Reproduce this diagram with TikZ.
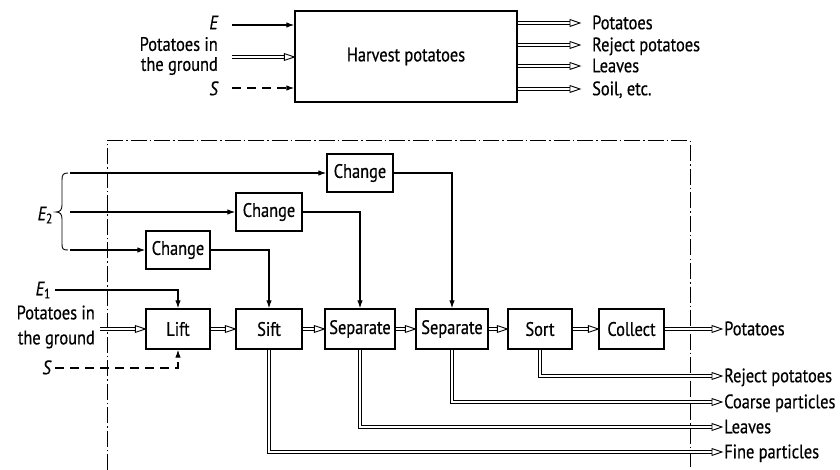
\documentclass[tikz,border=0pt]{standalone}
\usepackage{fontspec}
\setmainfont[FakeStretch=0.84,FakeBold=0.5]{PT Sans}
\usetikzlibrary{arrows.meta,decorations.markings}

\begin{document}
\begin{tikzpicture}[x=1pt,y=-1pt,
  font=\fontsize{19.5}{21}\selectfont,
  box/.style={draw, line width=1.3pt, minimum height=40pt, inner sep=0pt},
  lbl/.style={inner sep=0pt, text height=13.5pt, text depth=1pt},
  energy/.style={line width=1.2pt, -{Latex[length=8pt,width=5.5pt]}},
  signal/.style={energy, dash pattern=on 9pt off 6pt},
  flow/.style={line width=0.9pt, double, double distance=2.2pt, shorten >=9pt,
    postaction={decorate},
    decoration={markings, mark=at position 1 with {
      \draw[line width=0.9pt, fill=white, line join=miter]
        (0pt,0pt) -- (-10pt,3.4pt) -- (-10pt,-3.4pt) -- cycle;}}},
  frame/.style={line width=1pt, dash pattern=on 16pt off 3pt on 1.5pt off 3pt},
]
\useasboundingbox (0,0) rectangle (840,470);

% ---------- overall function ----------
\node[box, minimum width=222pt, minimum height=91pt] (harvest) at (406,56.5) {Harvest potatoes};

\node[lbl, anchor=east] (tE) at (218,23) {\itshape E};
\node[align=right, anchor=east, inner sep=0pt, font=\fontsize{19.5}{20}\selectfont] (tPin) at (218,56) {Potatoes in\\the ground};
\node[lbl, anchor=east] (tS) at (218,89) {\itshape S};

\coordinate (tEin) at (232,25);
\coordinate (tPinS) at (232,57);
\coordinate (tSin) at (232,88);
\draw[energy] (tEin) -- (tEin -| harvest.west);
\draw[flow] (tPinS) -- (tPinS -| harvest.west);
\draw[signal] (tSin) -- (tSin -| harvest.west);

\coordinate (tO1) at (580,23);
\coordinate (tO2) at (580,45);
\coordinate (tO3) at (580,66);
\coordinate (tO4) at (580,89);
\draw[flow] (tO1 -| harvest.east) -- (tO1);
\draw[flow] (tO2 -| harvest.east) -- (tO2);
\draw[flow] (tO3 -| harvest.east) -- (tO3);
\draw[flow] (tO4 -| harvest.east) -- (tO4);
\node[lbl, anchor=west] (tL1) at (592,23) {Potatoes};
\node[lbl, anchor=west] (tL2) at (592,45) {Reject potatoes};
\node[lbl, anchor=west] (tL3) at (592,66) {Leaves};
\node[lbl, anchor=west] (tL4) at (592,89) {Soil, etc.};

% ---------- system boundary ----------
\draw[frame] (107,470) -- (107,141) -- (690,141) -- (690,470);

% ---------- sub-functions ----------
\node[box, minimum width=66pt, minimum height=38pt] (ch3) at (360,173) {Change};
\node[box, minimum width=66pt, minimum height=38pt] (ch2) at (269,212) {Change};
\node[box, minimum width=64pt, minimum height=38pt] (ch1) at (178,250) {Change};

\node[box, minimum width=64pt] (lift) at (178,329) {Lift};
\node[box, minimum width=66pt] (sift) at (269,329) {Sift};
\node[box, minimum width=70pt] (sep1) at (360,329) {Separate};
\node[box, minimum width=72pt] (sep2) at (452,329) {Separate};
\node[box, minimum width=64pt] (sort) at (540,329) {Sort};
\node[box, minimum width=65pt] (collect) at (631.5,329) {Collect};

% energy supply E2 with brace
\draw[line width=0.9pt] (68,173) .. controls (63,173) and (62,175) .. (62,180)
  -- (62,205) .. controls (62,210) and (60,212) .. (56,212)
  .. controls (60,212) and (62,214) .. (62,219)
  -- (62,244) .. controls (62,249) and (63,250) .. (68,250);
\node[lbl, anchor=east] (lE2) at (53,214) {\itshape E\textsubscript{\upshape 2}};
\coordinate (e2a) at (70,173);
\coordinate (e2b) at (70,212);
\coordinate (e2c) at (70,250);
\draw[energy] (e2a) -- (ch3.west);
\draw[energy] (e2b) -- (ch2.west);
\draw[energy] (e2c) -- (ch1.west);

\draw[energy] (ch1.east) -| (sift.north);
\draw[energy] (ch2.east) -| (sep1.north);
\draw[energy] (ch3.east) -| (sep2.north);

% inputs to Lift
\node[lbl, anchor=east] (lE1) at (51,289) {\itshape E\textsubscript{\upshape 1}};
\node[align=right, anchor=east, inner sep=0pt, font=\fontsize{19.5}{25}\selectfont] (lPin) at (95,327) {Potatoes in\\the ground};
\node[lbl, anchor=east] (lS) at (51,368) {\itshape S};
\coordinate (e1) at (55,290);
\coordinate (pin) at (100,329);
\coordinate (sin) at (55,368);
\draw[energy] (e1) -| (lift.north);
\draw[flow] (pin) -- (lift.west);
\draw[signal] (sin) -| (lift.south);

% main material flow
\draw[flow] (lift) -- (sift);
\draw[flow] (sift) -- (sep1);
\draw[flow] (sep1) -- (sep2);
\draw[flow] (sep2) -- (sort);
\draw[flow] (sort) -- (collect);

% outputs
\coordinate (oPot) at (722,329);
\coordinate (oRej) at (722,376);
\coordinate (oCoa) at (722,402);
\coordinate (oLea) at (722,427);
\coordinate (oFin) at (722,452);
\draw[flow] (collect) -- (oPot);
\draw[flow] (sort.south) |- (oRej);
\draw[flow] (sep2.south) |- (oCoa);
\draw[flow] (sep1.south) |- (oLea);
\draw[flow] (sift.south) |- (oFin);
\node[lbl, anchor=west] (lPot) at (724,329) {Potatoes};
\node[lbl, anchor=west] (lRej) at (724,376) {Reject potatoes};
\node[lbl, anchor=west] (lCoa) at (724,402) {Coarse particles};
\node[lbl, anchor=west] (lLea) at (724,427) {Leaves};
\node[lbl, anchor=west] (lFin) at (724,452) {Fine particles};
\end{tikzpicture}
\end{document}
